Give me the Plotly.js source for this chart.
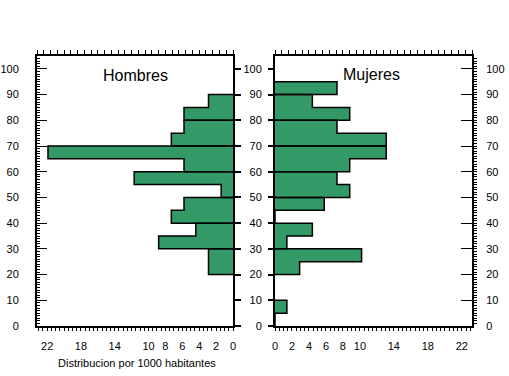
<!DOCTYPE html>
<html>
<head>
<meta charset="utf-8">
<script src="https://cdn.plot.ly/plotly-3.0.1.min.js"></script>
<style>
html,body{margin:0;padding:0;background:#fff;}
#chart{width:509px;height:376px;}
</style>
</head>
<body>
<div id="chart"></div>
<script>
// Age bins (start of each 5-year group)
const ageStart = [0,5,10,15,20,25,30,35,40,45,50,55,60,65,70,75,80,85,90,95];
// Distribution per 1000 inhabitants
const hombres = [0,0,0,0,2.9,2.9,8.8,4.4,7.3,5.8,1.4,11.7,5.8,21.9,7.3,5.8,5.8,2.9,0,0];
const mujeres = [0,1.4,0,0,2.9,10.2,1.4,4.4,0,5.8,8.8,7.3,8.8,13.1,13.1,7.3,8.8,4.4,7.3,0];
const xTickVals = [0,2,4,6,8,10,14,18,22];
const yTickVals = [0,10,20,30,40,50,60,70,80,90,100];
const titleLeft = "Hombres";
const titleRight = "Mujeres";
const xTitle = "Distribucion por 1000 habitantes";

const binW = 5;
const green = "#339966";
const FONT = "Liberation Sans, Arial, sans-serif";
const W = 509, H = 376;
const mT = 56, mB = 50;
const px = v => v / W;

function outline(vals){
  const xs = [], ys = [];
  for (let i = 0; i < vals.length; i += 2){
    const lo = ageStart[i], v1 = vals[i], v2 = vals[i+1] || 0;
    if (v1 === 0 && v2 === 0) continue;
    const pts = [[0,lo],[v1,lo],[v1,lo+binW],[v2,lo+binW]];
    if (v2 > 0) pts.push([v2,lo+2*binW],[0,lo+2*binW]);
    else pts.push([0,lo+binW]);
    pts.forEach(p => {xs.push(p[0]); ys.push(p[1]);});
    xs.push(null); ys.push(null);
  }
  return {xs, ys};
}

const centers = ageStart.map(a => a + binW/2);
const oL = outline(hombres), oR = outline(mujeres);

const dummy = (xa, ya) => ({type:'scatter', mode:'markers', x:[1], y:[-50], xaxis:xa, yaxis:ya,
  marker:{opacity:0, size:1}, hoverinfo:'skip', showlegend:false, cliponaxis:true});

const data = [
  {type:'bar', orientation:'h', x:hombres, y:centers, width:binW, xaxis:'x', yaxis:'y',
   marker:{color:green, line:{width:0}}, hoverinfo:'skip', showlegend:false},
  {type:'bar', orientation:'h', x:mujeres, y:centers, width:binW, xaxis:'x2', yaxis:'y2',
   marker:{color:green, line:{width:0}}, hoverinfo:'skip', showlegend:false},
  {type:'scatter', mode:'lines', x:oL.xs, y:oL.ys, xaxis:'x', yaxis:'y',
   line:{color:'#000', width:1.5}, connectgaps:false, hoverinfo:'skip', showlegend:false, cliponaxis:true},
  {type:'scatter', mode:'lines', x:oR.xs, y:oR.ys, xaxis:'x2', yaxis:'y2',
   line:{color:'#000', width:1.5}, connectgaps:false, hoverinfo:'skip', showlegend:false, cliponaxis:true},
  dummy('x3','y3'),
  dummy('x4','y4')
];

const XMAX = 23.2, YR = [0,105];
const tickFont = {family:FONT, size:11, color:'#000'};
const base = {showgrid:false, zeroline:false, showline:true, linecolor:'#000', linewidth:2, fixedrange:true};

const layout = {
  width:W, height:H,
  margin:{l:0, r:0, t:mT, b:mB, pad:0},
  paper_bgcolor:'#fff', plot_bgcolor:'#fff',
  bargap:0, showlegend:false,
  font:{family:FONT, size:11, color:'#000'},
  // left panel
  xaxis:Object.assign({}, base, {domain:[px(37),px(233)], range:[XMAX,0], anchor:'y', side:'bottom',
    tickmode:'array', tickvals:xTickVals, ticks:'', tickfont:tickFont, ticklabelstandoff:9,
    minor:{dtick:0.5, tick0:0, ticks:'outside', ticklen:3, tickcolor:'#000', showgrid:false}}),
  xaxis3:Object.assign({}, base, {overlaying:'x', range:[XMAX,0], anchor:'y', side:'top',
    showticklabels:false, ticks:'', tickmode:'array', tickvals:[],
    minor:{dtick:0.8, tick0:0, ticks:'outside', ticklen:4, tickcolor:'#000', showgrid:false}}),
  yaxis:Object.assign({}, base, {domain:[0,1], range:YR, anchor:'x', side:'left',
    tickmode:'array', tickvals:yTickVals, ticks:'inside', ticklen:10, tickwidth:1, tickcolor:'#000',
    tickfont:tickFont, ticklabelstandoff:14,
    minor:{dtick:1, tick0:0, ticks:'inside', ticklen:3, tickcolor:'#000', showgrid:false}}),
  yaxis3:Object.assign({}, base, {overlaying:'y', range:YR, anchor:'x', side:'right',
    tickmode:'array', tickvals:yTickVals, ticks:'outside', ticklen:6, tickwidth:2, tickcolor:'#000',
    showticklabels:false}),
  // right panel
  xaxis2:Object.assign({}, base, {domain:[px(275),px(472)], range:[0,XMAX], anchor:'y2', side:'bottom',
    tickmode:'array', tickvals:xTickVals, ticks:'', tickfont:tickFont, ticklabelstandoff:9,
    minor:{dtick:0.5, tick0:0, ticks:'outside', ticklen:3, tickcolor:'#000', showgrid:false}}),
  xaxis4:Object.assign({}, base, {overlaying:'x2', range:[0,XMAX], anchor:'y2', side:'top',
    showticklabels:false, ticks:'', tickmode:'array', tickvals:[],
    minor:{dtick:0.8, tick0:0, ticks:'outside', ticklen:4, tickcolor:'#000', showgrid:false}}),
  yaxis2:Object.assign({}, base, {domain:[0,1], range:YR, anchor:'x2', side:'left',
    tickmode:'array', tickvals:yTickVals, ticks:'outside', ticklen:5, tickwidth:2, tickcolor:'#000',
    tickfont:tickFont, ticklabelstandoff:4}),
  yaxis4:Object.assign({}, base, {overlaying:'y2', range:YR, anchor:'x2', side:'right',
    tickmode:'array', tickvals:yTickVals, ticks:'inside', ticklen:11, tickwidth:1, tickcolor:'#000',
    tickfont:tickFont, ticklabelstandoff:10,
    minor:{dtick:1, tick0:0, ticks:'outside', ticklen:3, tickcolor:'#000', showgrid:false}}),
  annotations:[
    {text:titleLeft, xref:'x', yref:'y', x:11.55, y:97.4, showarrow:false,
     font:{family:FONT, size:16, color:'#000'}, xanchor:'center', yanchor:'middle'},
    {text:titleRight, xref:'x2', yref:'y2', x:11.4, y:97.7, showarrow:false,
     font:{family:FONT, size:16, color:'#000'}, xanchor:'center', yanchor:'middle'},
    {text:xTitle, xref:'paper', yref:'paper', x:px(136.7), y:(326-363)/270, showarrow:false,
     font:{family:FONT, size:11, color:'#000'}, xanchor:'center', yanchor:'middle'}
  ]
};

Plotly.newPlot('chart', data, layout, {staticPlot:true, displayModeBar:false});
</script>
</body>
</html>
